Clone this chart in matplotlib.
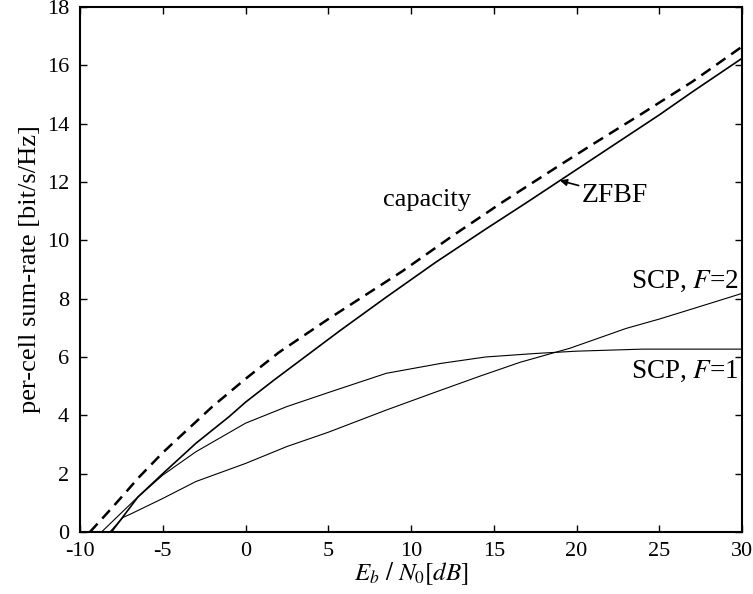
import matplotlib
matplotlib.use("Agg")
import matplotlib.pyplot as plt

plt.rcParams['font.family'] = ['Liberation Serif', 'DejaVu Serif']
plt.rcParams['mathtext.fontset'] = 'stix'
plt.rcParams['axes.unicode_minus'] = False

# Data
cap_x = [-9.4, -8, -6.4, -5, -4, -2, 0, 2, 5, 6.5, 9.5, 12.5, 15.5, 19, 21, 24, 27, 30]
cap_y = [0, 0.87, 1.9, 2.72, 3.25, 4.30, 5.25, 6.15, 7.3, 7.85, 8.95, 10.15, 11.3, 12.58, 13.3, 14.36, 15.44, 16.64]

zf_x = [-8.1, -6.5, -5, -3, -1, 0, 1.7, 3.7, 5.7, 8.5, 11.5, 14.5, 17, 19, 21, 23, 25, 27, 30]
zf_y = [0, 1.2, 2.0, 3.04, 3.95, 4.45, 5.2, 6.05, 6.9, 8.05, 9.25, 10.38, 11.3, 12.05, 12.8, 13.55, 14.3, 15.09, 16.24]

f1_x = [-8.7, -6.6, -5, -3, 0, 2.5, 5, 8.5, 11.8, 14.5, 17.5, 20, 24, 30]
f1_y = [0, 1.15, 1.95, 2.75, 3.73, 4.30, 4.78, 5.44, 5.78, 6.0, 6.12, 6.2, 6.27, 6.27]

f2_x = [-8.2, -7.4, -7, -5, -3, 0, 2.5, 5, 8.5, 11.5, 14.2, 16.6, 19.6, 23, 25, 27, 30]
f2_y = [0, 0.5, 0.6, 1.15, 1.73, 2.35, 2.93, 3.42, 4.18, 4.8, 5.35, 5.82, 6.30, 6.98, 7.3, 7.65, 8.18]

xticks = [-10, -5, 0, 5, 10, 15, 20, 25, 30]
yticks = [0, 2, 4, 6, 8, 10, 12, 14, 16, 18]

fig = plt.figure(figsize=(7.53, 5.94), dpi=100)
ax = fig.add_axes([80/753, 1-532/594, 662/753, 525/594])

ax.plot(cap_x, cap_y, color='black', lw=1.8, ls=(0, (4.5, 2.8)))
ax.plot(zf_x, zf_y, color='black', lw=1.2)
ax.plot(f1_x, f1_y, color='black', lw=0.8)
ax.plot(f2_x, f2_y, color='black', lw=0.8)

ax.set_xlim(-10, 30)
ax.set_ylim(0, 18)
ax.set_xticks(xticks)
ax.set_yticks(yticks)
ax.tick_params(direction='in', top=True, right=True, length=5, width=1, labelsize=16)
ax.tick_params(axis='x', pad=7)
ax.tick_params(axis='y', pad=8)
for s in ax.spines.values():
    s.set_linewidth(1.5)

ax.set_xlabel(r'$E_b\ /\ N_0[dB]$', fontsize=18, labelpad=0)
ax.set_ylabel('per-cell sum-rate [bit/s/Hz]', fontsize=19, labelpad=4)

ax.text(10.95, 11.38, 'capacity', fontsize=19, ha='center', va='center')
ax.annotate('ZFBF', xy=(19.0, 12.05), xytext=(20.3, 11.55), fontsize=20, ha='left', va='center',
            arrowprops=dict(arrowstyle='-|>', color='black', lw=1.2, mutation_scale=10, shrinkA=0, shrinkB=0))
ax.text(29.8, 8.6, 'SCP, $F$=2', fontsize=19.5, ha='right', va='center')
ax.text(29.8, 5.5, 'SCP, $F$=1', fontsize=19.5, ha='right', va='center')

fig.savefig('out.png', dpi=100)
